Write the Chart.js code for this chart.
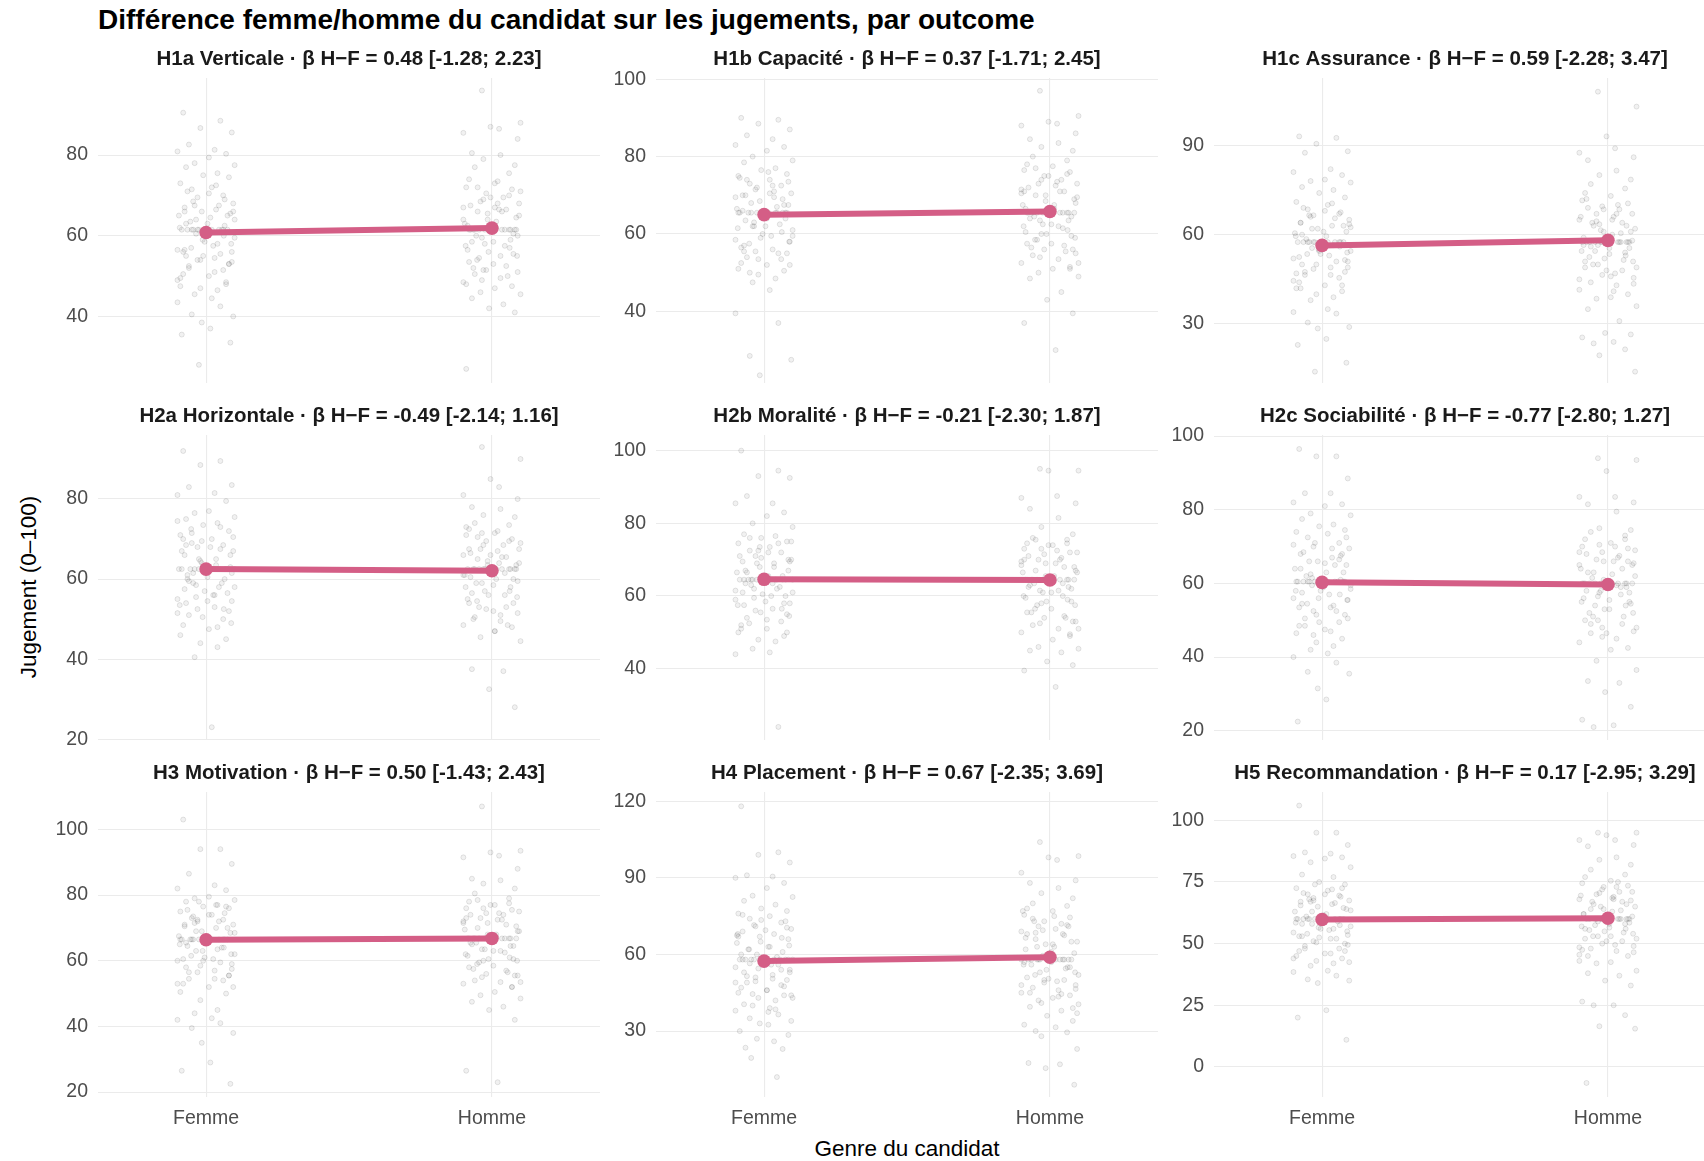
<!DOCTYPE html>
<html>
<head>
<meta charset="utf-8">
<script src="https://cdn.jsdelivr.net/npm/chart.js@4.4.1/dist/chart.umd.min.js"></script>
<style>
  html, body { margin: 0; padding: 0; background: #ffffff; }
  body { width: 1704px; height: 1161px; overflow: hidden; position: relative; font-family: 'Liberation Sans', Arial, sans-serif; }
  canvas { position: absolute; }
  .txt { position: absolute; white-space: nowrap; }
</style>
</head>
<body>
<div class="txt" id="mainTitle" style="left:98px; top:4px; font-size:28px; line-height:32px; font-weight:bold; color:#000;">Différence femme/homme du candidat sur les jugements, par outcome</div>
<div class="txt" id="xTitle" style="left:907px; top:1136px; transform:translateX(-50%); font-size:22.5px; line-height:26px; color:#000;">Genre du candidat</div>
<div class="txt" id="yTitle" style="left:29px; top:587px; transform:translate(-50%,-50%) rotate(-90deg); font-size:22.5px; line-height:22.5px; color:#000;">Jugement (0–100)</div>
<script>
// ---------------- DATA ----------------
const categories = ['Femme', 'Homme'];

const panelTitles = [
  'H1a Verticale · β H−F = 0.48 [-1.28; 2.23]',
  'H1b Capacité · β H−F = 0.37 [-1.71; 2.45]',
  'H1c Assurance · β H−F = 0.59 [-2.28; 3.47]',
  'H2a Horizontale · β H−F = -0.49 [-2.14; 1.16]',
  'H2b Moralité · β H−F = -0.21 [-2.30; 1.87]',
  'H2c Sociabilité · β H−F = -0.77 [-2.80; 1.27]',
  'H3 Motivation · β H−F = 0.50 [-1.43; 2.43]',
  'H4 Placement · β H−F = 0.67 [-2.35; 3.69]',
  'H5 Recommandation · β H−F = 0.17 [-2.95; 3.29]'
];

const yTickValues = [
  [40, 60, 80],
  [40, 60, 80, 100],
  [30, 60, 90],
  [20, 40, 60, 80],
  [40, 60, 80, 100],
  [20, 40, 60, 80, 100],
  [20, 40, 60, 80, 100],
  [30, 60, 90, 120],
  [0, 25, 50, 75, 100]
];
const yMinValues = [23.5, 21.5, 10.2, 19.8, 20.4, 17.5, 18.5, 4.2, -12.2];
const yMaxValues = [99.1, 100.3, 112.6, 96.0, 104.3, 100.3, 111.4, 123.6, 111.5];

const meanFemme = [60.8, 65.0, 56.4, 62.5, 64.6, 60.3, 66.4, 57.4, 59.8];
const meanHomme = [61.9, 65.8, 58.1, 62.1, 64.4, 59.7, 66.8, 58.9, 60.3];

// individual judgments (read approximately from the jittered clouds)
const h1aF = [90.5,88.5,86.7,85.6,82.6,81.3,80.9,80.3,79.4,78,77.5,77,75.5,75,74.5,73,72,71.5,70,69.5,68,67,66.5,66,65.5,65,64.5,63.5,62.5,61.5,61.5,61.5,61.5,61.5,61.5,61.5,61.5,60.5,59.5,58.5,57.5,56.5,56,55,54.5,54,53,52.5,51.5,50.5,50,49.5,48,47,46.5,45.5,44.5,43.5,42.5,40.5,40,38.5,37,35.5,33.5,28,
  72.5,71,69,68.5,67.5,66,65,64,63,62,60,59,58,57,56,55.5,54,53.5,52,51,49,48.5,70.5,67.5,64,63,58,55,53,47.5,61.5,61.5,61.5,61.5,66,56.5];
const h1aH = [96,88,87,86.5,85.5,84,80.5,80,79,77.5,77,75.5,74,73,72,71.5,70.5,69.5,68.5,68,67,66.5,66,65,64,63.5,62.5,61.5,61.5,61.5,61.5,61.5,61.5,61.5,61.5,60.5,59.5,58.5,57.5,57,56,55,54,53.5,52.5,51.5,51,50.5,49.5,48.5,47.5,47,46,45.5,44.5,43,42,41,27,
  73.5,72,70,69,68,67.5,66,65.5,64.5,63,62,60,59,58,57.5,56.5,55.5,54.5,53,52,50,49,71,69.5,66.5,64,60,58.5,55,51.5,61.5,61.5,61.5,61.5,67,48];
const h1bF = [90,89.5,88.5,87,85.5,84.5,83,82.5,81.5,80,79,78.5,77,76.5,75.5,75,74,73,72.5,71.5,70.5,70,69.5,68.5,67.5,66.5,65.5,65.5,65.5,65.5,65.5,65.5,65.5,65.5,64.5,63.5,62.5,62,61,60,59.5,58.5,58,57,56,55.5,55,54,53.5,52.5,52,51,50.5,49.5,48.5,47.5,45.5,39.5,37,28.5,27.5,23.5,
  76,74.5,73.5,72,71,70,69,68,67,66,64,63,62,61.5,60.5,59,58,57.5,56.5,55,53.5,52,74,72.5,69.5,67.5,64,62,59.5,55.5,65.5,65.5,65.5,65.5,70.5,50];
const h1bH = [97,90.5,89,88.5,88,86,84.5,83.5,82.5,81.5,80,79,78,77.5,76.5,76,75,74,73,72.5,71.5,71,70,69.5,68.5,67.5,66.5,65.5,65.5,65.5,65.5,65.5,65.5,65.5,65.5,64.5,63.5,62.5,62,61,60,59,58.5,57.5,57,56,55,54.5,53.5,52.5,51.5,51,50,49,48.5,45,43,39.5,37,30,
  77,75.5,74,73,72,71,70,69,67.5,66.5,64.5,63.5,62.5,61.5,60.5,59.5,58.5,57.5,56.5,55.5,54,52.5,75,73.5,70.5,68,64,62,60,56,65.5,65.5,65.5,65.5,71,51];
const h1cF = [93,92.5,90.5,88,87.5,82,81,80,78.5,78,77.5,76,75,74,72.5,71,70,68.5,67,66.5,65,64,63,62,61,60.5,59.5,58.5,57.5,57.5,57.5,57.5,57.5,57.5,57.5,57.5,56.5,55.5,54.5,53.5,53,52,51,50,49,48.5,47.5,46.5,45.5,44,43,42,41,40,39,38,35,34,33.5,30.5,29,28.5,25,23,17,14,
  70.5,69,67.5,66.5,65.5,64,63,62,61,59.5,56,55,54,53.5,52.5,51,50,49,47.5,46.5,44.5,43,68,66,62.5,60,56.5,54.5,51.5,47,57.5,57.5,57.5,57.5,63.5,42];
const h1cH = [108,103,93,89,87.5,86,85,81.5,80,78.5,77,75.5,74,73,71.5,70.5,69.5,68.5,67,66,65,64,63,62,61,60,59,58,57.5,57.5,57.5,57.5,57.5,57.5,57.5,57.5,56.5,55.5,54.5,53,52,51,50,49,48,46.5,45.5,44,43,41.5,40,39,38.5,36,35,31,27,26.5,25.5,24,23.5,21.5,19.5,14,
  72,70,68.5,67,66,65,64,63,61.5,60.5,56.5,55.5,54.5,53.5,52.5,51.5,50,49,48,47,45,43.5,69,67,63.5,61,56,54,51,46,57.5,57.5,57.5,57.5,64.5,41];
const h2aF = [92,89.5,88.5,83.5,83,81.5,81,79.5,77,76.5,75.5,75,74,73.5,72,71,70,69,68.5,68,67,66,65,64,63,62.5,62.5,62.5,62.5,62.5,62.5,62.5,62.5,61.5,60.5,60,59,58.5,58,57,56,55,54.5,54,53,52.5,52,51,50,48.5,47.5,46,45,44,43,40.5,23,
  74.5,73,71.5,70.5,69.5,68,67,66,65,63.5,61,60,59,58,57.5,56.5,55.5,54.5,53.5,52.5,50.5,49,72.5,70,67.5,64.5,61.5,59.5,56,51.5,62.5,62.5,62.5,62.5,68.5,48];
const h2aH = [93,90,85,83,81,80,78,77.5,76,75.5,74,73.5,72.5,71.5,71,70,69.5,68.5,67.5,67,66,65.5,65,64,63.5,62.5,62.5,62.5,62.5,62.5,62.5,62.5,62.5,61.5,60.5,60,59,58.5,58,57,56,55.5,54.5,54,53,52.5,51.5,50.5,49.5,48.5,48,47,45.5,44.5,37.5,37,32.5,28,
  73,72,70.5,69.5,68.5,67.5,66.5,65.5,64.5,63.5,61,60,59,58,57,56,55,54,53,52,50,48.5,71.5,69,66,64,61,59.5,56.5,51,62.5,62.5,62.5,62.5,67.5,47];
const h2bF = [100,94.5,93,92.5,87.5,85.5,85.5,83,82,80,79,77,76.5,76,75,74.5,73.5,72.5,72,71,70,69.5,69,68,67,66.5,65.5,64.5,64.5,64.5,64.5,64.5,64.5,64.5,64.5,63.5,62.5,62,61,60.5,60,59,58,57.5,56.5,56,55,54,53,52,51,50,49,48,47.5,45.5,44.5,44,24,
  76,75,73.5,72,71,70,69,68,67,65.5,63,62,61,60,59.5,58.5,57.5,56.5,55.5,54.5,52.5,51,74.5,72.5,69.5,66.5,63.5,61.5,58,53.5,64.5,64.5,64.5,64.5,70.5,50];
const h2bH = [95,94.5,94.5,87.5,87,85.5,84,81.5,79,77,76,75.5,74.5,74,73,72,71.5,70.5,70,69,68.5,68,67,66.5,65.5,64.5,64.5,64.5,64.5,64.5,64.5,64.5,64.5,63.5,62.5,62,61.5,61,60,59,58.5,57.5,56.5,55.5,54.5,54,53,52,51,50,49.5,48,46,45.5,45,44.5,42,41,39.5,35,
  75.5,74.5,73,72,71,70,69,68,66.5,65.5,63.5,62.5,61,60,59.5,58.5,57.5,56.5,55.5,54,52.5,51,74,72.5,69.5,67,63,61.5,58,53,64.5,64.5,64.5,64.5,70,49];
const h2cF = [96.5,94.5,94.5,88.5,84.5,84.5,82,81.5,81,79,78.5,77.5,76,75.5,74.5,74,73.5,72.5,71,70,69.5,68,67,66,65,64,63,62,61,60.5,60.5,60.5,60.5,60.5,60.5,60.5,60.5,59.5,58.5,58,57,56,55.5,54.5,53.5,52.5,51.5,50.5,49.5,48.5,47.5,46.5,45,44,43,42,41,40,38.5,36,35.5,31.5,28.5,22.5,
  72.5,71,69.5,68.5,67.5,66,65,64,63,61.5,59,58,57,56,55.5,54.5,53.5,52.5,51.5,50.5,48.5,47,70.5,68,65.5,62.5,59.5,57.5,54,49.5,60.5,60.5,60.5,60.5,66.5,46];
const h2cH = [94,93.5,90.5,83.5,83.5,82,81.5,79.5,75,74.5,74,73,72,71,70,69.5,68.5,67.5,66.5,66,65,64,63,62,61,60,60,60,60,60,60,60,60,59,58,57.5,56.5,55.5,55,54,53,52,51,50,49,48,47,46.5,45,44,42.5,42,39,36.5,33.5,33,30.5,26.5,23,21.5,21,
  72,70.5,69,68,67,66,65,64,62.5,61.5,59,58,57,56,55,54,53,52,51,50,48,46.5,70,68.5,65.5,63,59.5,57.5,54.5,49,60,60,60,60,66,45.5];
const h3F = [103,94,94,89.5,86.5,83,82,81.5,79.5,79,78.5,78,77,76.5,76,75,74,73,72.5,72,71,70.5,70,69,68.5,67.5,66.5,66.5,66.5,66.5,66.5,66.5,66.5,66.5,65.5,64.5,64,63,62,61,60.5,60,59,58,57,56.5,55.5,54.5,54,53,52,50.5,50,48,45,44,42.5,42,41,39.5,38,35,29,26.5,22.5,
  78,77,75.5,74.5,73.5,72,71,70,69,67.5,65,64,63,62,61.5,60.5,59.5,58.5,57.5,56.5,54.5,53,76.5,74,71.5,68.5,65.5,63.5,60,55.5,66.5,66.5,66.5,66.5,72.5,52];
const h3H = [107,93.5,93,92,91.5,88,85,84.5,83.5,82,80.5,79,78,77,76,75.5,74.5,74,73,72.5,71.5,71,70,69,68,67,66.8,66.8,66.8,66.8,66.8,66.8,66.8,66.8,65.5,64.5,63.5,63,62,61,60.5,60,59,58,57,56,55.5,54,53.5,53,52,50.5,49.5,48.5,47.5,46,45,42,26.5,23,
  78.5,77.5,76,75,74,72.5,71.5,70.5,69.5,68,65.5,64.5,63.5,62.5,61.5,60.5,59.5,58.5,57.5,56.5,55,53.5,77,74.5,72,69,65,63,60,55.5,66.8,66.8,66.8,66.8,73,52];
const h4F = [118,100,99,96,91,90.5,90,88,86,83,82.5,81,79.5,78,77,76,75,74,72.5,71,70,69,68,67,66,64.5,63,62,61,60,59,58,58,58,58,58,58,58,58,57,56,55,54,53,52,51,50,49,48,47,46,45,44,43,42,40,39,38,36.5,35,34,33,32.5,30,28.5,27,26,23.5,23,19.5,12,
  75.5,73,71.5,69.5,68,66.5,65,63.5,62,60,56,54.5,53,51.5,50.5,49,47.5,46,44.5,43,40.5,38.5,73.5,70.5,67,63,56.5,54,49.5,44,58,58,58,58,67.5,37.5];
const h4H = [104,98.5,98,97,92,89,88,86,84,82,80,79,78,77,75.5,74.5,73,72,71,70,69,67.5,66,65,64,63,62,60.5,59.5,58,58,58,58,58,58,58,58,57,56,55,54,53,52,51,50,49,48,47,46,45,44,43,42,40.5,39.5,38,36,34,32.5,31.5,30,29.5,28,23,17.5,17,15.5,9,
  77,75,73,71,69.5,68,66.5,65,63,61,56,54.5,53,52,50.5,49.5,48,46.5,45,43.5,41,39,74,71.5,68,64,57,55,50,44.5,58,58,58,58,68.5,37];
const h5F = [106,95,95,90,87,86.5,85.5,85,84.5,83,81,78,77,75,74,72.5,71.5,70,69.5,68.5,67.5,67,66,65,64,63,62,61,60,60,60,60,60,60,60,60,59,58,57,56,55.5,54.5,53.5,53,52,51,50,49,48,47,46,45,44,43,42,41,39,38.5,37,35.5,35,34,23,20,11,
  74,72,70.5,69,68,66.5,65.5,64.5,63,61.5,58.5,57.5,56.5,55,54,53,52,50.5,49.5,48,46,44,72.5,70,67,63.5,58,56,52.5,47,60,60,60,60,67.5,42.5];
const h5H = [95,95,94,92,92,90,89.5,85,84,82,80,78,77,75.5,74.5,73.5,72,71,70,69,68,67,66,65,64,63,62,61,60,60,60,60,60,60,60,60,59,58,57,56,55,54,53,52,51,50,49,48,47,45.5,45,42.5,42,39,38,37,35,33,26.5,25,25,21,16.5,15.5,-6.5,
  75,73,71,69.5,68.5,67,66,65,63.5,62,58.5,57.5,56.5,55.5,54.5,53,52,51,49.5,48.5,46.5,45,73,70.5,67.5,64,58,56,53,47.5,60,60,60,60,68,43];

const femmeValues = [h1aF, h1bF, h1cF, h2aF, h2bF, h2cF, h3F, h4F, h5F];
const hommeValues = [h1aH, h1bH, h1cH, h2aH, h2bH, h2cH, h3H, h4H, h5H];

// horizontal jitter offsets (category units)
const jitterX = [-0.08,0.05,-0.02,0.09,-0.06,0.03,-0.1,0.07,0.01,-0.04,0.1,-0.07,0.04,-0.01,0.08,-0.09,0.02,-0.05,0.06,-0.03,0.095,-0.075,0.035,-0.015,0.085,-0.095,0.015,-0.055,0.065,-0.025,0.045,-0.085,0.075,-0.045,0.005,-0.065,0.055,-0.035,0.1,-0.005,0.025,-0.1,0.09,-0.07,0.03,-0.03,0.08,-0.06,0.06,-0.08,0.01,-0.09,0.07,-0.02,0.04,-0.04,0.02,-0.1,0.05,-0.05,0.095,-0.015,0.015,-0.085,0.085,-0.025,0.035,-0.065,0.065,-0.045,0.045,-0.075,0.075,-0.035,0.005,-0.092,0.062,-0.012,0.088,-0.052];

// ---------------- LAYOUT / STYLE ----------------
const FONT = "'Liberation Sans', Arial, sans-serif";
const PINK = '#D45E86';
const GRID = '#EBEBEB';
const plotLefts = [98, 656, 1214];
const plotTops = [78, 435, 792];
const plotW = 502, plotH = 305;
const yAxisW = 70, titleH = 35, bottomPad = 14;
const xRange = [0.622, 2.378];

const panelTitlePlugin = {
  id: 'panelTitle',
  afterDraw(chart, args, opts) {
    const ctx = chart.ctx, a = chart.chartArea;
    ctx.save();
    ctx.font = 'bold 20.5px ' + FONT;
    ctx.fillStyle = '#1A1A1A';
    ctx.textAlign = 'center';
    ctx.textBaseline = 'middle';
    ctx.fillText(opts.text, (a.left + a.right) / 2, a.top - 19);
    ctx.restore();
  }
};

for (let i = 0; i < 9; i++) {
  const row = Math.floor(i / 3), col = i % 3;
  const bottomRow = row === 2;
  const cv = document.createElement('canvas');
  const w = yAxisW + plotW;
  const h = titleH + plotH + (bottomRow ? 40 : bottomPad);
  cv.width = w; cv.height = h;
  cv.style.width = w + 'px'; cv.style.height = h + 'px';
  cv.style.left = (plotLefts[col] - yAxisW) + 'px';
  cv.style.top = (plotTops[row] - titleH) + 'px';
  document.body.appendChild(cv);

  const fPts = femmeValues[i].map((v, k) => ({ x: 1 + jitterX[k % jitterX.length], y: v }));
  const hPts = hommeValues[i].map((v, k) => ({ x: 2 + jitterX[(k + 37) % jitterX.length], y: v }));

  new Chart(cv, {
    type: 'scatter',
    data: {
      datasets: [
        {
          type: 'line',
          order: 0,
          data: [{ x: 1, y: meanFemme[i] }, { x: 2, y: meanHomme[i] }],
          borderColor: PINK,
          backgroundColor: PINK,
          borderWidth: 6,
          pointRadius: 6.8,
          pointBackgroundColor: PINK,
          pointBorderWidth: 0,
          tension: 0,
          clip: false
        },
        {
          order: 1,
          data: fPts.concat(hPts),
          pointRadius: 2.5,
          backgroundColor: 'rgba(0,0,0,0.055)',
          borderColor: 'rgba(0,0,0,0.10)',
          borderWidth: 1
        }
      ]
    },
    options: {
      responsive: false,
      animation: false,
      devicePixelRatio: 1,
      layout: { autoPadding: false, padding: { top: titleH, left: 0, right: 0, bottom: bottomRow ? 0 : bottomPad } },
      plugins: {
        legend: { display: false },
        tooltip: { enabled: false },
        title: { display: false },
        panelTitle: { text: panelTitles[i] }
      },
      scales: {
        x: {
          type: 'linear',
          min: xRange[0], max: xRange[1],
          afterBuildTicks: s => { s.ticks = [{ value: 1 }, { value: 2 }]; },
          afterFit: s => {
            s.height = bottomRow ? 40 : 0;
            s.paddingLeft = 0; s.paddingRight = 0; s.paddingTop = 0; s.paddingBottom = 0;
          },
          ticks: {
            display: bottomRow,
            callback: v => categories[Math.round(v) - 1],
            font: { family: FONT, size: 19.5 },
            color: '#4D4D4D',
            padding: 10,
            maxRotation: 0,
            autoSkip: false
          },
          grid: { color: GRID, lineWidth: 1.1, drawTicks: false },
          border: { display: false }
        },
        y: {
          type: 'linear',
          min: yMinValues[i], max: yMaxValues[i],
          afterBuildTicks: s => { s.ticks = yTickValues[i].map(v => ({ value: v })); },
          afterFit: s => {
            s.width = yAxisW;
            s.paddingLeft = 0; s.paddingRight = 0; s.paddingTop = 0; s.paddingBottom = 0;
          },
          ticks: {
            font: { family: FONT, size: 19.5 },
            color: '#4D4D4D',
            padding: 10
          },
          grid: { color: GRID, lineWidth: 1.1, drawTicks: false },
          border: { display: false }
        }
      }
    },
    plugins: [panelTitlePlugin]
  });
}
</script>
</body>
</html>
